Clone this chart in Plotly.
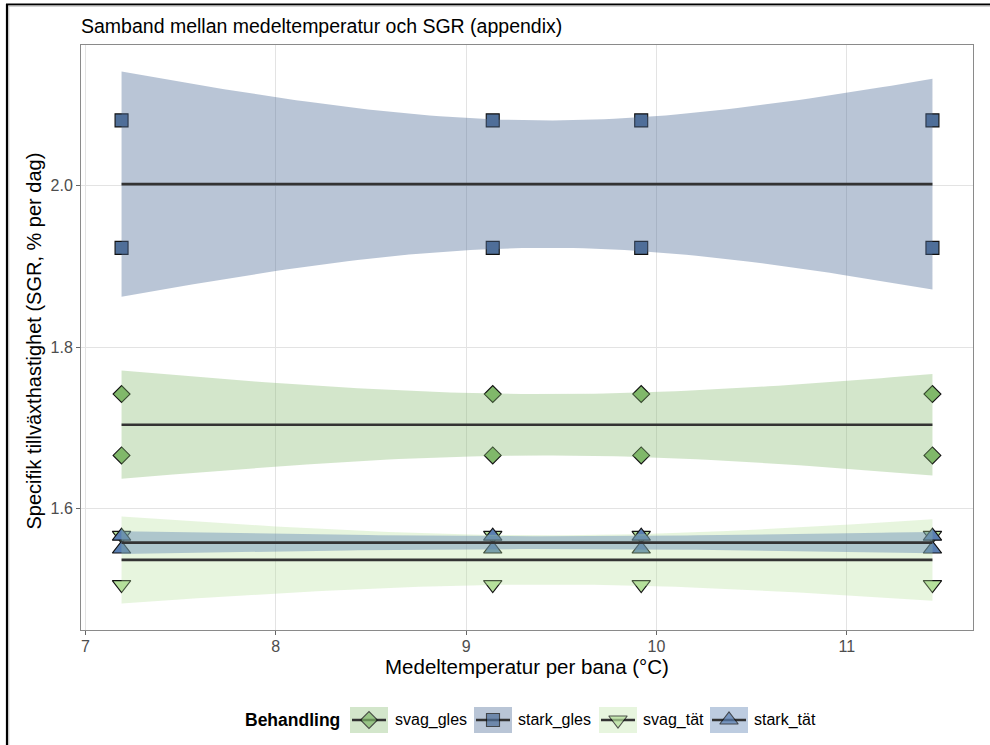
import numpy as np
import plotly.graph_objects as go

# ---------------------------------------------------------------- data
# Mean water temperature per raceway (°C); two tanks measured per raceway
temp = [7.19, 7.19, 9.14, 9.14, 9.92, 9.92, 11.45, 11.45]

# Specific growth rate (SGR, % per day) per treatment
svag_gles = [1.742, 1.666, 1.742, 1.666, 1.742, 1.666, 1.742, 1.666]
stark_gles = [2.081, 1.923, 2.081, 1.923, 2.081, 1.923, 2.081, 1.923]
svag_tat = [1.567, 1.506, 1.567, 1.506, 1.567, 1.506, 1.567, 1.506]
stark_tat = [1.566, 1.550, 1.566, 1.550, 1.566, 1.550, 1.566, 1.550]

treatments = ["svag_gles", "stark_gles", "svag_tät", "stark_tät"]
sgr_by_treatment = [svag_gles, stark_gles, svag_tat, stark_tat]

x_ticks = [7, 8, 9, 10, 11]
y_ticks = [1.6, 1.8, 2.0]

title_text = "Samband mellan medeltemperatur och SGR (appendix)"
x_title = "Medeltemperatur per bana (°C)"
y_title = "Specifik tillväxthastighet (SGR, % per dag)"
legend_title = "Behandling"

# ---------------------------------------------------------------- styles
W, H = 990, 745
FONT = "Liberation Sans, Arial, Helvetica, sans-serif"

point_colour = {
    "svag_gles": "#80b86a",
    "stark_gles": "#4f6f99",
    "svag_tät": "#b5e09b",
    "stark_tät": "#5a7fb2",
}
band_alpha = {"svag_gles": 0.35, "stark_gles": 0.4, "svag_tät": 0.33, "stark_tät": 0.4}
symbol = {
    "svag_gles": "diamond",
    "stark_gles": "square",
    "svag_tät": "triangle-down",
    "stark_tät": "triangle-up",
}
marker_size = {"svag_gles": 13, "stark_gles": 13, "svag_tät": 16, "stark_tät": 16}
LINE_COLOUR = "#333333"
LINE_WIDTH = 2.7

# panel placement in pixels
PANEL_L, PANEL_R, PANEL_T, PANEL_B = 81, 973, 45, 630


def rgba(hex_colour, a):
    h = hex_colour.lstrip("#")
    r, g, b = int(h[0:2], 16), int(h[2:4], 16), int(h[4:6], 16)
    return f"rgba({r},{g},{b},{a})"


def px(x):
    return x / W


def py(y):
    return 1 - y / H


# two-sided 95 % Student t quantiles by residual degrees of freedom
T975 = {4: 2.776445, 5: 2.570582, 6: 2.446912, 7: 2.364624, 8: 2.306004}


def linear_smooth(x, y, n=80):
    """Least-squares line with 95 % confidence band (like geom_smooth(method='lm'))."""
    x = np.asarray(x, float)
    y = np.asarray(y, float)
    slope, icpt = np.polyfit(x, y, 1)
    resid = y - (icpt + slope * x)
    dof = len(x) - 2
    s = np.sqrt((resid ** 2).sum() / dof)
    xbar = x.mean()
    sxx = ((x - xbar) ** 2).sum()
    xg = np.linspace(x.min(), x.max(), n)
    fit = icpt + slope * xg
    se = s * np.sqrt(1.0 / len(x) + (xg - xbar) ** 2 / sxx)
    half = T975[dof] * se
    return xg, fit, fit - half, fit + half


smooths = [linear_smooth(temp, vals) for vals in sgr_by_treatment]

# axis ranges with 5 % expansion around data and bands
x_lo, x_hi = min(temp), max(temp)
x_pad = 0.05 * (x_hi - x_lo)
y_lo = min(min(s[2].min() for s in smooths), min(min(v) for v in sgr_by_treatment))
y_hi = max(max(s[3].max() for s in smooths), max(max(v) for v in sgr_by_treatment))
y_pad = 0.05 * (y_hi - y_lo)

fig = go.Figure()

# points first, so the ribbons lie over them
for name, vals in zip(treatments, sgr_by_treatment):
    fig.add_trace(go.Scatter(
        x=temp, y=vals, mode="markers", showlegend=False, name=name,
        marker=dict(symbol=symbol[name], size=marker_size[name],
                    color=point_colour[name],
                    line=dict(color="#111111", width=1.1)),
        hoverinfo="x+y+name",
    ))

# ribbons and fitted lines, one treatment at a time
for name, (xg, fit, lo, hi) in zip(treatments, smooths):
    fig.add_trace(go.Scatter(
        x=np.concatenate([xg, xg[::-1]]),
        y=np.concatenate([hi, lo[::-1]]),
        mode="lines", fill="toself",
        fillcolor=rgba(point_colour[name], band_alpha[name]),
        line=dict(width=0), showlegend=False, hoverinfo="skip",
    ))
    fig.add_trace(go.Scatter(
        x=xg, y=fit, mode="lines", showlegend=False, name=name,
        line=dict(color=LINE_COLOUR, width=LINE_WIDTH),
    ))

# ---------------------------------------------------------------- legend
LEG_Y = 720
KEY_H = 26
key_x = [350, 474, 599, 710]
KEY_W = 38
text_x = [393, 516, 641, 752]

shapes = []
for name, kx in zip(treatments, key_x):
    shapes.append(dict(type="rect", xref="x2", yref="y2", layer="below",
                       x0=kx, x1=kx + KEY_W, y0=LEG_Y - KEY_H / 2, y1=LEG_Y + KEY_H / 2,
                       fillcolor=rgba(point_colour[name], band_alpha[name]),
                       line=dict(width=0)))
    shapes.append(dict(type="line", xref="x2", yref="y2", layer="below",
                       x0=kx + 2, x1=kx + KEY_W - 2, y0=LEG_Y, y1=LEG_Y,
                       line=dict(color=LINE_COLOUR, width=LINE_WIDTH)))

fig.add_trace(go.Scatter(
    x=[kx + KEY_W / 2 for kx in key_x], y=[LEG_Y] * 4,
    xaxis="x2", yaxis="y2", mode="markers", showlegend=False, hoverinfo="skip",
    marker=dict(symbol=[symbol[n] for n in treatments],
                size=[marker_size[n] for n in treatments],
                color=[point_colour[n] for n in treatments],
                line=dict(color="#111111", width=1.1)),
))

annotations = [
    dict(text=legend_title, xref="x2", yref="y2", x=243, y=LEG_Y,
         xanchor="left", yanchor="middle", showarrow=False,
         font=dict(family=FONT, size=17.5, color="black", weight="bold")),
]
for name, tx in zip(treatments, text_x):
    annotations.append(dict(text=name, xref="x2", yref="y2", x=tx, y=LEG_Y,
                            xanchor="left", yanchor="middle", showarrow=False,
                            font=dict(family=FONT, size=16, color="black")))

# titles
annotations += [
    dict(text=title_text, xref="paper", yref="paper", x=px(PANEL_L - 2), y=py(26),
         xanchor="left", yanchor="middle", showarrow=False,
         font=dict(family=FONT, size=19.5, color="black")),
    dict(text=x_title, xref="paper", yref="paper", x=px((PANEL_L + PANEL_R) / 2), y=py(666),
         xanchor="center", yanchor="middle", showarrow=False,
         font=dict(family=FONT, size=20.5, color="black")),
    dict(text=y_title, xref="paper", yref="paper", x=px(33), y=py((PANEL_T + PANEL_B) / 2 + 4),
         xanchor="center", yanchor="middle", showarrow=False, textangle=-90,
         font=dict(family=FONT, size=20, color="black")),
]

# outer frame
shapes += [
    dict(type="line", xref="paper", yref="paper", x0=px(6), x1=1, y0=py(4.5), y1=py(4.5),
         line=dict(color="black", width=2.2)),
    dict(type="line", xref="paper", yref="paper", x0=px(7), x1=px(7), y0=py(4), y1=0,
         line=dict(color="black", width=2.2)),
    dict(type="line", xref="paper", yref="paper", x0=px(8.5), x1=1, y0=py(6.2), y1=py(6.2),
         line=dict(color="#c4c4c4", width=1.2)),
    dict(type="line", xref="paper", yref="paper", x0=px(8.7), x1=px(8.7), y0=py(6), y1=0,
         line=dict(color="#c4c4c4", width=1.2)),
]

axis_common = dict(
    showline=True, mirror=True, linecolor="#8a8a8a", linewidth=1,
    showgrid=True, gridcolor="#e3e3e3", gridwidth=1.2, zeroline=False,
    ticks="outside", ticklen=4, tickwidth=1, tickcolor="#666666",
    tickfont=dict(family=FONT, size=16, color="#4d4d4d"),
)

fig.update_layout(
    width=W, height=H,
    margin=dict(l=0, r=0, t=0, b=0),
    paper_bgcolor="white", plot_bgcolor="white",
    showlegend=False,
    xaxis=dict(domain=[px(PANEL_L), px(PANEL_R)], range=[x_lo - x_pad, x_hi + x_pad],
               tickvals=x_ticks, anchor="y", ticklabelstandoff=-2, **axis_common),
    yaxis=dict(domain=[py(PANEL_B), py(PANEL_T)], range=[y_lo - y_pad, y_hi + y_pad],
               tickvals=y_ticks, tickformat=".1f", anchor="x", **axis_common),
    xaxis2=dict(domain=[0, 1], range=[0, W], anchor="y2", visible=False, fixedrange=True),
    yaxis2=dict(domain=[0, py(690)], range=[H, 690], anchor="x2", visible=False, fixedrange=True),
    shapes=shapes,
    annotations=annotations,
)

fig.write_html("out.html")
